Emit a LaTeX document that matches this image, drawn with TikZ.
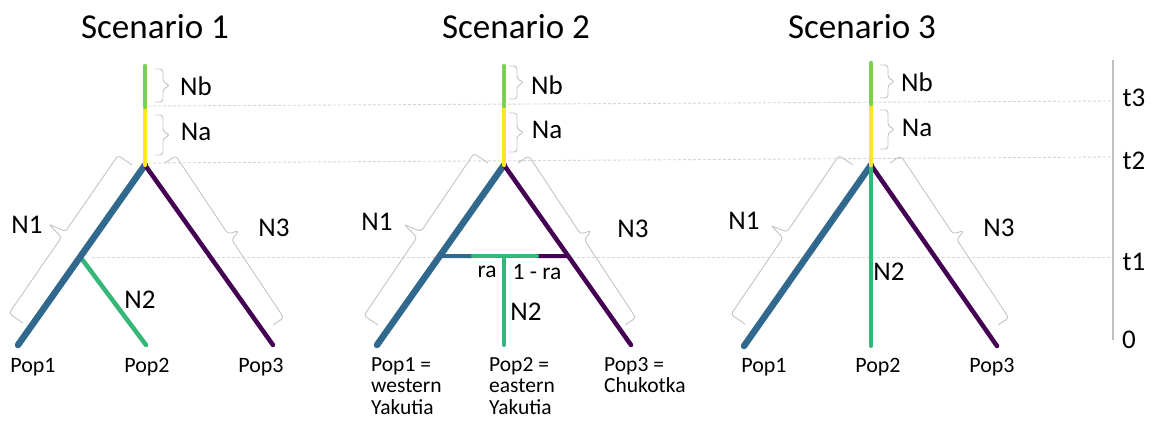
\documentclass[tikz,border=0pt]{standalone}
\usepackage{fontspec}
\setmainfont{Carlito}
\usetikzlibrary{calc}
\definecolor{vblue}{HTML}{31688E}
\definecolor{vpurple}{HTML}{440154}
\definecolor{vgreen}{HTML}{35B779}
\definecolor{vyellow}{HTML}{FDE725}
\definecolor{vlime}{HTML}{7AD151}
\definecolor{bracegray}{HTML}{C4C4C4}
\definecolor{dashgray}{HTML}{D6D6D6}
\definecolor{axisgray}{HTML}{BFBFBF}
\tikzset{
  bracestyle/.style={draw=bracegray, line width=0.9pt, rounded corners=3pt},
  dashline/.style={draw=dashgray, line width=0.9pt, dash pattern=on 3pt off 2pt},
  axisline/.style={draw=axisgray, line width=1.2pt},
  branch/.style={line width=4.5pt, line cap=round},
  wbranch/.style={line width=6.5pt, line cap=round},
  title/.style={font=\fontsize{35}{40}\selectfont, inner sep=0pt, anchor=base},
  lab/.style={font=\fontsize{27}{30}\selectfont, inner sep=0pt},
  smlab/.style={font=\fontsize{23.5}{26}\selectfont, inner sep=0pt},
  poplab/.style={font=\fontsize{22}{23}\selectfont, inner sep=0pt, anchor=base},
  popblock/.style={font=\fontsize{21.5}{21.5}\selectfont, inner sep=0pt, anchor=north west, align=left},
}
\newcommand\pbrace[5]{%
  \path (#1) coordinate (pbA) (#2) coordinate (pbB);
  \pgfmathanglebetweenpoints{\pgfpointanchor{pbA}{center}}{\pgfpointanchor{pbB}{center}}%
  \let\pbang\pgfmathresult
  \pgfpointdiff{\pgfpointanchor{pbA}{center}}{\pgfpointanchor{pbB}{center}}%
  \pgfgetlastxy{\pbdx}{\pbdy}%
  \pgfmathsetmacro\pblen{veclen(\pbdx,\pbdy)}%
  \pgfmathsetmacro\pbm{\pblen/2}%
  \pgfmathsetmacro\pbml{\pbm-3.5}%
  \pgfmathsetmacro\pbmr{\pbm+3.5}%
  \pgfmathsetmacro\pba{#3*#4}%
  \pgfmathsetmacro\pbt{#3*(#4+#5)}%
  \begin{scope}[shift={(pbA)},rotate=\pbang]
    \draw[bracestyle] (0pt,0pt) -- (0pt,\pba pt) -- (\pbml pt,\pba pt) -- (\pbm pt,\pbt pt) -- (\pbmr pt,\pba pt) -- (\pblen pt,\pba pt) -- (\pblen pt,0pt);
  \end{scope}}
\begin{document}
\begin{tikzpicture}[x=1pt,y=-1pt]
\useasboundingbox (0,0) rectangle (1152,421);
\fill[white] (0,0) rectangle (1152,421);

% time axis and dashed levels
\coordinate (axtop) at (1113,60);
\coordinate (axbot) at (1113,340);
\draw[axisline] (axtop) -- (axbot);
\coordinate (t3l) at (148,106); \coordinate (t3r) at (1111,101);
\coordinate (t2l) at (148,163); \coordinate (t2r) at (1111,157);
\coordinate (t1l) at (92,257);  \coordinate (t1r) at (1111,257);
\draw[dashline] (t3l) -- (t3r);
\draw[dashline] (t2l) -- (t2r);
\draw[dashline] (t1l) -- (t1r);
\node[lab] (lt3) at (1134,98) {t3};
\node[lab] (lt2) at (1134,161) {t2};
\node[lab] (lt1) at (1134,262) {t1};
\node[lab] (lt0) at (1129,340) {0};

% titles
\node[title] (ti1) at (155,38) {Scenario 1};
\node[title] (ti2) at (516,38) {Scenario 2};
\node[title] (ti3) at (862,38) {Scenario 3};

% ---------- Scenario 1 ----------
\coordinate (top1) at (145,66);
\coordinate (mid1) at (145,107);
\coordinate (root1) at (145,165);
\coordinate (leaf1a) at (18,345);
\coordinate (leaf1b) at (146,345);
\coordinate (leaf1c) at (273,345);
\coordinate (br1) at ($(root1)!0.51!(leaf1a)$);
\pbrace{155,69}{155,102}{1}{8}{7}
\pbrace{155,115}{155,155}{1}{8}{7}
\pbrace{132,165}{23,323}{-1}{17}{18}
\pbrace{165,163}{273,325}{1}{13}{11}
\draw[branch, vgreen] (br1) -- (leaf1b);
\draw[wbranch, vblue] (root1) -- (leaf1a);
\draw[branch, vpurple] (root1) -- (leaf1c);
\draw[branch, vyellow] (mid1) -- (root1);
\draw[branch, vlime] (top1) -- (mid1);
\node[lab] (nb1) at (196,86) {Nb};
\node[lab] (na1) at (196,132) {Na};
\node[lab] (n11) at (27,225) {N1};
\node[lab] (n31) at (274,228) {N3};
\node[lab] (n21) at (140,300) {N2};
\node[poplab] (p11) at (33,372) {Pop1};
\node[poplab] (p21) at (147,372) {Pop2};
\node[poplab] (p31) at (261,372) {Pop3};

% ---------- Scenario 2 ----------
\coordinate (top2) at (504,66);
\coordinate (mid2) at (504,106);
\coordinate (root2) at (504,165);
\coordinate (leaf2a) at (377,345);
\coordinate (leaf2b) at (504,345);
\coordinate (leaf2c) at (631,345);
\coordinate (hl2) at ($(root2)!0.506!(leaf2a)$);
\coordinate (hr2) at ($(root2)!0.506!(leaf2c)$);
\coordinate (hg2a) at (473,256);
\coordinate (hg2b) at (537,256);
\coordinate (hc2) at (504,256);
\pbrace{509,66}{509,99}{1}{8}{7}
\pbrace{509,113}{509,152}{1}{8}{7}
\pbrace{488,163}{378,325}{-1}{17}{18}
\pbrace{518,163}{625,325}{1}{13}{11}
\draw[wbranch, vblue] (root2) -- (leaf2a);
\draw[branch, vpurple] (root2) -- (leaf2c);
\draw[line width=4pt, line cap=round, vblue] (hl2) -- (hg2a);
\draw[line width=4pt, line cap=round, vpurple] (hg2b) -- (hr2);
\draw[line width=4pt, line cap=round, vgreen] (hg2a) -- (hg2b);
\draw[line width=4pt, line cap=round, vgreen] (hc2) -- (leaf2b);
\draw[branch, vyellow] (mid2) -- (root2);
\draw[branch, vlime] (top2) -- (mid2);
\node[lab] (nb2) at (547,85) {Nb};
\node[lab] (na2) at (547,130) {Na};
\node[lab] (n12) at (377,222) {N1};
\node[lab] (n32) at (633,229) {N3};
\node[lab] (n22) at (526,312) {N2};
\node[smlab] (ra2) at (487,272) {ra};
\node[smlab] (ra2b) at (537,272) {1 - ra};
\node[popblock] (p12) at (371,357) {Pop1 =\\western\\Yakutia};
\node[popblock] (p22) at (489,357) {Pop2 =\\eastern\\Yakutia};
\node[popblock] (p32) at (604,357) {Pop3 =\\Chukotka};

% ---------- Scenario 3 ----------
\coordinate (top3) at (871,63);
\coordinate (mid3) at (871,104);
\coordinate (root3) at (871,165);
\coordinate (leaf3a) at (744,346);
\coordinate (leaf3b) at (871,346);
\coordinate (leaf3c) at (997,346);
\pbrace{880,65}{880,98}{1}{8}{7}
\pbrace{880,110}{880,149}{1}{8}{7}
\pbrace{853,165}{745,324}{-1}{17}{17}
\pbrace{890,163}{998,325}{1}{13}{11}
\draw[wbranch, vblue] (root3) -- (leaf3a);
\draw[branch, vpurple] (root3) -- (leaf3c);
\draw[line width=4pt, line cap=round, vgreen] (root3) -- (leaf3b);
\draw[branch, vyellow] (mid3) -- (root3);
\draw[branch, vlime] (top3) -- (mid3);
\node[lab] (nb3) at (917,82) {Nb};
\node[lab] (na3) at (917,128) {Na};
\node[lab] (n13) at (744,221) {N1};
\node[lab] (n33) at (999,228) {N3};
\node[lab] (n23) at (889,272) {N2};
\node[poplab] (p13) at (764,372) {Pop1};
\node[poplab] (p23) at (878,372) {Pop2};
\node[poplab] (p33) at (992,372) {Pop3};
\end{tikzpicture}
\end{document}
